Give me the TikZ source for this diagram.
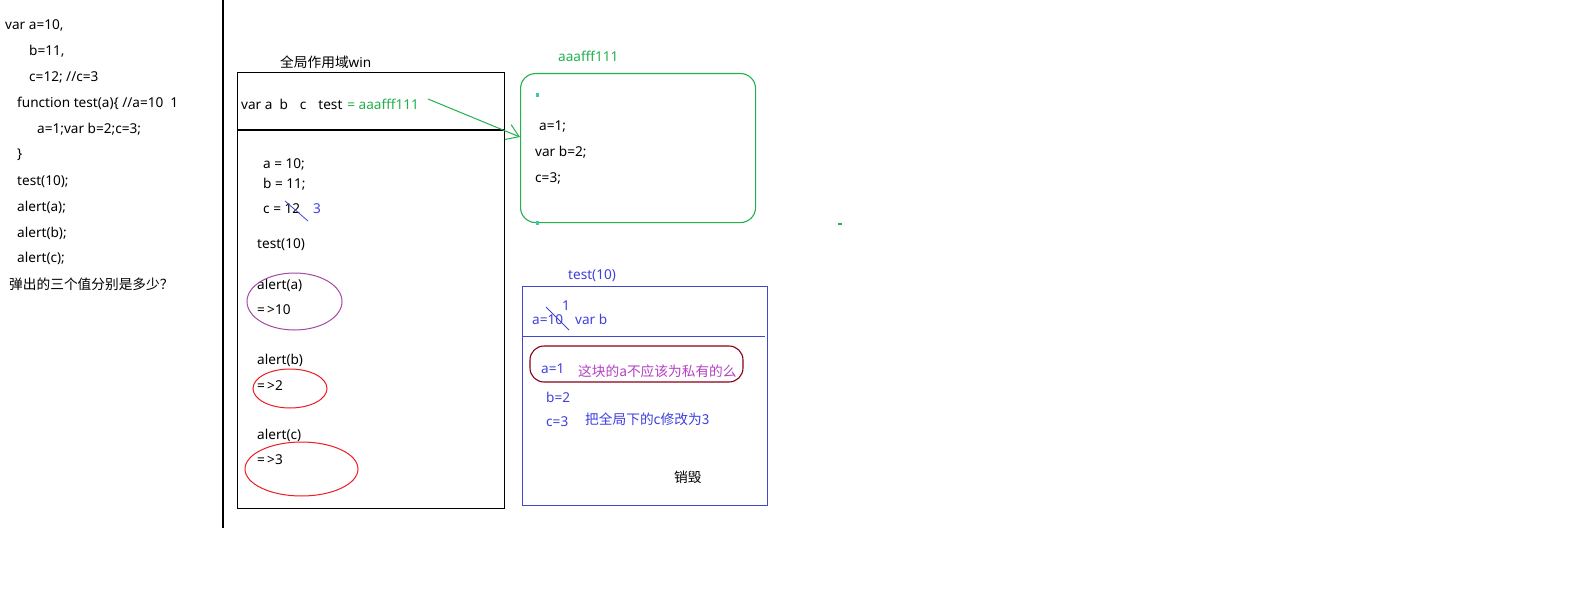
\documentclass[tikz,border=0pt]{standalone}
\usepackage{fontspec}
\setmainfont{Noto Sans}
\newfontfamily\cjk{Noto Sans CJK SC}
\usetikzlibrary{shapes.geometric,arrows.meta}
\definecolor{pgreen}{HTML}{22B14C}
\definecolor{pblue}{HTML}{3F48CC}
\definecolor{tblue}{HTML}{3F3FE0}
\definecolor{ppurple}{HTML}{A349A4}
\definecolor{pred}{HTML}{ED1C24}
\definecolor{pdark}{HTML}{880015}
\definecolor{ppink}{HTML}{B440C4}
\definecolor{pcyan}{HTML}{3CC8B0}
\tikzset{
  txt/.style={anchor=mid west, inner sep=0pt, yshift=-2.5pt, font=\fontsize{13.6}{16}\selectfont},
  cjktxt/.style={txt, font=\fontsize{13.7}{16}\selectfont\cjk},
  frame/.style={draw=black, line width=1.3pt, anchor=north west, inner sep=0pt},
  oval/.style={ellipse, draw, line width=1pt, inner sep=0pt},
  strike/.style={draw=pblue, line width=0.8pt}
}
\begin{document}
\begin{tikzpicture}[x=1pt,y=-1pt]
\useasboundingbox (0,0) rectangle (1588,602);
\fill[white] (0,0) rectangle (1588,602);
% separator
\coordinate (sepTop) at (223,0);
\coordinate (sepBot) at (223,528);
\draw[line width=1.3pt] (sepTop) -- (sepBot);
% left code
\node[txt] (l1) at (5,24) {var a=10,};
\node[txt] (l2) at (29,50) {b=11,};
\node[txt] (l3) at (29,76) {c=12; //c=3};
\node[txt] (l4) at (17,102) {function test(a)\{ //a=10\ \ 1};
\node[txt] (l5) at (37,128) {a=1;var b=2;c=3;};
\node[txt] (l6) at (17,153) {\}};
\node[txt] (l7) at (17,180) {test(10);};
\node[txt] (l8) at (17,206) {alert(a);};
\node[txt] (l9) at (17,232) {alert(b);};
\node[txt] (l10) at (17,257) {alert(c);};
\node[cjktxt] (l11) at (9,284) {弹出的三个值分别是多少？};
% global box
\node[txt] (gtitle) at (280,62) {{\fontsize{13.7}{16}\selectfont\cjk 全局作用域}win};
\node[frame, minimum width=267pt, minimum height=436pt] (gbox) at (237,72) {};
\draw[line width=1.3pt] (gbox.west |- 0,130) -- (gbox.east |- 0,130);
\node[txt] (gvar) at (241,104) {var a\hspace{7pt}b\hspace{12pt}c\hspace{12pt}test\hspace{5pt}\textcolor{pgreen}{= aaafff111}};
\node[txt] (ga) at (263,163) {a = 10;};
\node[txt] (gb) at (263,183) {b = 11;};
\node[txt] (gc) at (263,208) {c = 12};
\node[txt, text=tblue] (gc3) at (313,208) {3};
\coordinate (s1a) at (285,201);
\coordinate (s1b) at (308,221);
\draw[strike] (s1a) -- (s1b);
\node[txt] (gtest) at (257,243) {test(10)};
\node[txt] (galerta) at (257,284) {alert(a)};
\node[txt] (gra) at (257,309) {=\,>10};
\node[txt] (galertb) at (257,359) {alert(b)};
\node[txt] (grb) at (257,385) {=\,>2};
\node[txt] (galertc) at (257,434) {alert(c)};
\node[txt] (grc) at (257,459) {=\,>3};
\node[oval, draw=ppurple, minimum width=95pt, minimum height=57pt] (ea) at (294.5,301.5) {};
\node[oval, draw=pred, minimum width=74pt, minimum height=39pt] (eb) at (290,388.5) {};
\node[oval, draw=pred, minimum width=113pt, minimum height=54pt] (ec) at (301.5,469) {};
% function object (green)
\node[txt, text=pgreen] (ftitle) at (558,56) {aaafff111};
\node[draw=pgreen, line width=1.1pt, rounded corners=15pt, anchor=north west, inner sep=0pt, minimum width=235pt, minimum height=149pt] (fbox) at (520,73) {};
\node[txt] (fa) at (539,125) {a=1;};
\node[txt] (fb) at (535,151) {var b=2;};
\node[txt] (fc) at (535,177) {c=3;};
\fill[pcyan] (536,93) rectangle (539,97);
\fill[pcyan] (536,221) rectangle (539,225);
\fill[pgreen] (838,222.5) rectangle (842,225);
% arrow
\coordinate (arrS) at (428,99);
\coordinate (arrE) at (520,137);
\draw[pgreen, line width=1pt, -{Straight Barb[length=12pt,width=16pt]}] (arrS) -- (arrE);
% execution context (blue)
\node[txt, text=tblue] (ttitle) at (568,274) {test(10)};
\node[draw=pblue, line width=1pt, anchor=north west, inner sep=0pt, minimum width=245pt, minimum height=219pt] (tbox) at (522,286) {};
\draw[pblue, line width=1pt] (tbox.west |- 0,336) -- (765,336);
\node[txt, text=tblue] (t1) at (562,305) {1};
\node[txt, text=tblue] (targ) at (532,319) {a=10\hspace{12pt}var b};
\coordinate (s2a) at (546,307);
\coordinate (s2b) at (569,330);
\draw[strike] (s2a) -- (s2b);
\node[draw=pdark, line width=1.1pt, rounded corners=14pt, inner sep=0pt, minimum width=213pt, minimum height=36pt] (hl) at (636.5,364) {};
\node[txt, text=tblue] (ta) at (541,368) {a=1};
\node[cjktxt, text=ppink] (tq) at (578,371) {这块的a不应该为私有的么};
\node[txt, text=tblue] (tb) at (546,397) {b=2};
\node[txt, text=tblue] (tc) at (546,421) {c=3};
\node[cjktxt, text=tblue] (tnote) at (585,419) {把全局下的c修改为3};
\node[cjktxt] (tdel) at (674,477) {销毁};
\end{tikzpicture}
\end{document}
